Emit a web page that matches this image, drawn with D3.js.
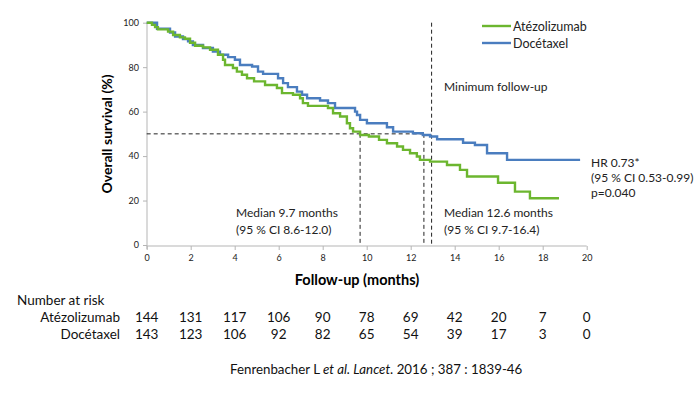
<!DOCTYPE html>
<html>
<head>
<meta charset="utf-8">
<script src="https://cdn.jsdelivr.net/npm/d3@7/dist/d3.min.js"></script>
<style>
  body { margin: 0; background: #fff; }
  svg { font-family: Lato, "Open Sans", sans-serif; }
</style>
</head>
<body>
<svg id="chart" width="700" height="397"></svg>
<script>
// survival steps [month, %]
var atezoSteps = [[0,100],[0.24,99],[0.38,98],[0.51,97],[0.97,96],[1.2,94.5],[1.51,93.4],[1.74,92.8],
  [1.97,91],[2.2,89.6],[2.56,88.9],[2.88,87.8],[3.24,85.6],[3.47,83.3],[3.56,81],[3.92,79.6],[4.1,78],
  [4.33,76.6],[4.56,75],[4.88,73.6],[5.38,72],[5.92,70.6],[6.15,68.3],[6.65,67.6],[6.97,66],[7.1,63.8],
  [7.33,62.6],[8.24,61.6],[8.47,59.3],[8.79,57.8],[9.1,54.8],[9.24,52.5],[9.38,51],[9.7,49.5],[10.1,48.8],
  [10.56,47.3],[10.92,45.8],[11.38,44.3],[11.65,42.8],[11.97,41.3],[12.28,39.8],[12.42,38.3],[12.88,37.5],
  [13.65,36],[14.24,33.8],[14.56,30.8],[15.97,28],[16.74,24],[17.42,21],[18.74,21]];
var docetSteps = [[0,100],[0.47,97.3],[1.06,95.6],[1.29,93.8],[1.65,92.6],[1.88,91.6],[2.1,90],[2.56,88.6],
  [3.01,87],[3.33,85.6],[3.7,84.5],[4.01,83.3],[4.24,81],[4.79,80.3],[5.06,78],[5.29,77],[5.97,75],[6.2,72.8],
  [6.42,71],[6.83,69],[7.06,67.6],[7.29,66],[7.88,65],[8.24,63.8],[8.56,61.6],[9.47,60],[9.56,58.5],[9.7,56.3],
  [10.01,54.8],[10.92,53],[11.2,51],[12.1,50.3],[12.55,49.5],[12.88,48.8],[13.2,47.6],[14.38,46],[14.92,45],
  [15.47,41.3],[16.38,38.3],[19.7,38.3]];

var xTicks = [0,2,4,6,8,10,12,14,16,18,20];
var yTicks = [0,20,40,60,80,100];
var riskTimes = [0,2,4,6,8,10,12,14,16,18,20];
var riskAtezo = [144,131,117,106,90,78,69,42,20,7,0];
var riskDocet = [143,123,106,92,82,65,54,39,17,3,0];

var green = "#6cb62f", blue = "#4a7dbf";

var svg = d3.select("#chart");
var x = d3.scaleLinear().domain([0,20]).range([146.7,586.7]);
var y = d3.scaleLinear().domain([0,100]).range([245,22.7]);

// axes
var xAxis = svg.append("g").attr("transform","translate(0,246)")
  .call(d3.axisBottom(x).tickValues(xTicks).tickSize(4).tickPadding(5));
var yAxis = svg.append("g").attr("transform","translate(147,0)")
  .call(d3.axisLeft(y).tickValues(yTicks).tickSize(4).tickPadding(4));
svg.selectAll(".domain, .tick line").attr("stroke","#b5b5b5");
svg.selectAll(".tick text").attr("font-family","Lato, sans-serif").attr("font-size","9px").attr("fill","#222");
yAxis.select(".domain").attr("d","M0,22.7V249");
xAxis.select(".domain").attr("d","M146.7,0H586.7");

// axis titles
svg.append("text").attr("transform","translate(112,134) rotate(-90)")
  .attr("text-anchor","middle").attr("font-weight","bold").attr("font-size","14px").text("Overall survival (%)");
svg.append("text").attr("x",357).attr("y",285).attr("text-anchor","middle")
  .attr("font-weight","bold").attr("font-size","14.5px").text("Follow-up (months)");

// dashed reference lines
var dash = svg.append("g").attr("stroke","#222").attr("stroke-width",1).attr("stroke-dasharray","4,3").attr("fill","none");
dash.append("line").attr("x1",x(0)).attr("x2",x(12.6)).attr("y1",y(50)).attr("y2",y(50));
dash.append("line").attr("x1",x(9.7)).attr("x2",x(9.7)).attr("y1",y(50)).attr("y2",y(0));
dash.append("line").attr("x1",x(12.6)).attr("x2",x(12.6)).attr("y1",y(50)).attr("y2",y(0));
dash.append("line").attr("x1",x(12.95)).attr("x2",x(12.95)).attr("y1",y(100)).attr("y2",y(0));

// curves
var line = d3.line().x(function(d){return x(d[0]);}).y(function(d){return y(d[1]);}).curve(d3.curveStepAfter);
svg.append("path").datum(docetSteps).attr("d",line).attr("fill","none").attr("stroke",blue).attr("stroke-width",2.4);
svg.append("path").datum(atezoSteps).attr("d",line).attr("fill","none").attr("stroke",green).attr("stroke-width",2.4);

// legend
var legend = [["Atézolizumab",green],["Docétaxel",blue]];
legend.forEach(function(l,i){
  var ly = 26 + i*17;
  svg.append("line").attr("x1",482).attr("x2",511).attr("y1",ly).attr("y2",ly).attr("stroke",l[1]).attr("stroke-width",2.4);
  svg.append("text").attr("x",513).attr("y",ly+4.5).attr("font-size","12.5px").attr("fill","#222").text(l[0]);
});

// annotations
function note(lines, tx, ty, dy) {
  lines.forEach(function(t,i){
    svg.append("text").attr("x",tx).attr("y",ty+i*dy).attr("font-size","12px").attr("fill","#222").text(t);
  });
}
note(["Minimum follow-up"],444,91,17);
note(["Median 9.7 months","(95 % CI 8.6-12.0)"],236,217,17);
note(["Median 12.6 months","(95 % CI 9.7-16.4)"],444,217,17);
note(["HR 0.73*","(95 % CI 0.53-0.99)","p=0.040"],591,167,15);

// number at risk
svg.append("text").attr("x",17).attr("y",305).attr("font-size","13.5px").attr("fill","#111").text("Number at risk");
[["Atézolizumab",riskAtezo,322],["Docétaxel",riskDocet,339]].forEach(function(r){
  svg.append("text").attr("x",120).attr("y",r[2]).attr("text-anchor","end").attr("font-size","13.5px").attr("fill","#111").text(r[0]);
  svg.selectAll(null).data(r[1]).enter().append("text")
    .attr("x",function(d,i){return x(riskTimes[i]);}).attr("y",r[2])
    .attr("text-anchor","middle").attr("font-size","13.5px").attr("fill","#111")
    .text(function(d){return d;});
});

// citation
var cite = svg.append("text").attr("x",230).attr("y",374).attr("font-size","13.3px").attr("fill","#111");
cite.append("tspan").text("Fenrenbacher L ");
cite.append("tspan").attr("font-style","italic").text("et al. Lancet");
cite.append("tspan").text(". 2016 ; 387 : 1839-46");
</script>
</body>
</html>
